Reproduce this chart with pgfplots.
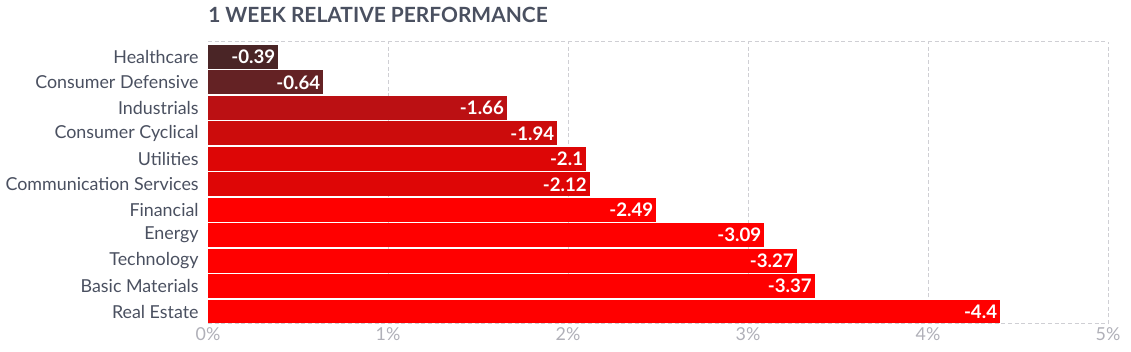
\documentclass[border=0pt]{standalone}
\usepackage{pgfplots}
\pgfplotsset{compat=1.18}
\usepackage{fontspec}
\setmainfont{Lato}
\definecolor{c1}{HTML}{4A2526}
\definecolor{c2}{HTML}{642224}
\definecolor{c3}{HTML}{BB1013}
\definecolor{c4}{HTML}{CC0C0C}
\definecolor{c5}{HTML}{DD0606}
\definecolor{c6}{HTML}{DE0606}
\definecolor{c7}{HTML}{FF0000}
\definecolor{labelc}{HTML}{4A5060}
\definecolor{titlec}{HTML}{4A5060}
\definecolor{tickc}{HTML}{B0B0B8}
\definecolor{gridc}{HTML}{CFCFD4}
\begin{document}
\begin{tikzpicture}
\useasboundingbox (0pt,0pt) rectangle (848.25pt,264pt);
\node[anchor=base west, font=\fontsize{15.7}{18}\selectfont\bfseries, text=titlec, inner sep=0pt] at (156pt,247.1pt) {1 WEEK RELATIVE PERFORMANCE};
\begin{axis}[
  at={(156pt,21pt)}, anchor=south west,
  scale only axis, width=675pt, height=211.5pt,
  xmin=0, xmax=5, ymin=-0.49, ymax=10.59,
  xbar, bar width=0.94,
  every axis plot/.append style={bar shift=0pt, draw=none},
  axis line style={draw=none},
  major tick length=0pt,
  xtick={0,1,2,3,4,5},
  xticklabels={0\%,1\%,2\%,3\%,4\%,5\%},
  xticklabel style={font=\fontsize{13.4}{15}\selectfont, text=tickc, yshift=1pt},
  ytick={0,...,10},
  yticklabels={Real Estate,Basic Materials,Technology,Energy,Financial,Communication Services,Utilities,Consumer Cyclical,Industrials,Consumer Defensive,Healthcare},
  yticklabel style={font=\fontsize{13.4}{15}\selectfont, text=labelc, xshift=-3.5pt},
  extra x ticks={1,2,3,4,5},
  extra x tick labels={},
  extra x tick style={grid=major},
  extra y ticks={-0.49,10.59},
  extra y tick labels={},
  extra y tick style={grid=major},
  major grid style={draw=gridc, dash pattern=on 3pt off 2pt, line width=0.75pt},
  point meta=explicit symbolic,
  nodes near coords,
  nodes near coords style={anchor=east, text=white, font=\fontsize{14}{16}\selectfont\bfseries, inner xsep=2pt},
]
\addplot[fill=c1] coordinates {(0.39,10) [-0.39]};
\addplot[fill=c2] coordinates {(0.64,9) [-0.64]};
\addplot[fill=c3] coordinates {(1.66,8) [-1.66]};
\addplot[fill=c4] coordinates {(1.94,7) [-1.94]};
\addplot[fill=c5] coordinates {(2.1,6) [-2.1]};
\addplot[fill=c6] coordinates {(2.12,5) [-2.12]};
\addplot[fill=c7] coordinates {(2.49,4) [-2.49]};
\addplot[fill=c7] coordinates {(3.09,3) [-3.09]};
\addplot[fill=c7] coordinates {(3.27,2) [-3.27]};
\addplot[fill=c7] coordinates {(3.37,1) [-3.37]};
\addplot[fill=c7] coordinates {(4.4,0) [-4.4]};
\end{axis}
\end{tikzpicture}
\end{document}
